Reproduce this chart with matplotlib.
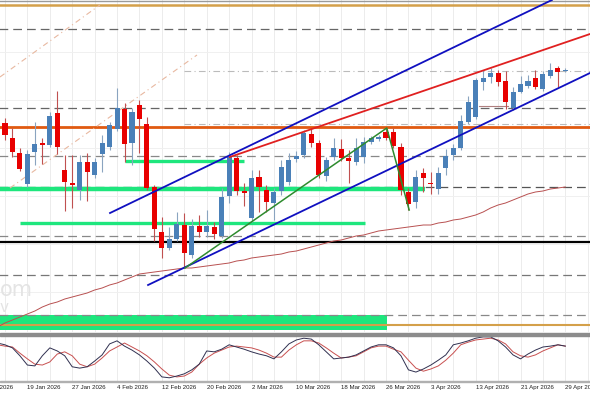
import numpy as np
import matplotlib.pyplot as plt
from matplotlib.patches import Rectangle

# daily candles, index 0 = 13 Jan 2026 (partly off screen)
colors = "BRRRBBRBRRRBRBBBBRBRRRRBBRBRBRBBRRBRRBBBBBRRBBRRBBBBRRRRBRRBBBBBBBBRRBBBRBBRB"
opens = [207, 217, 202, 187, 156, 188, 197, 195, 227, 170, 157, 150, 178, 165, 186, 193, 211, 231, 197, 235,
         216, 153, 108, 92, 101, 115, 85, 114, 108, 113, 104, 144, 182, 149, 122, 163, 150, 137, 149, 158,
         181, 185, 206, 197, 164, 183, 191, 182, 178, 183, 198, 201, 208, 208, 193, 148, 138, 167, 157, 151,
         172, 185, 192, 218, 223, 258, 263, 267, 259, 232, 248, 254, 262, 251, 264, 272, 269]
closes = [218, 205, 188, 171, 186, 196, 195, 224, 193, 158, 155, 178, 168, 178, 197, 215, 232, 196, 228, 221,
          152, 111, 92, 101, 116, 87, 114, 108, 114, 106, 143, 183, 149, 147, 162, 153, 138, 148, 173, 180,
          184, 207, 197, 165, 180, 192, 182, 179, 192, 198, 202, 203, 202, 194, 150, 136, 163, 162, 156, 167,
          184, 192, 219, 238, 260, 262, 267, 258, 238, 248, 256, 259, 253, 266, 270, 268, 270]
highs = [222, 222, 212, 192, 190, 218, 202, 228, 249, 185, 185, 185, 187, 182, 205, 218, 252, 237, 232, 240,
         223, 155, 123, 113, 128, 127, 121, 125, 130, 118, 152, 188, 185, 157, 170, 170, 155, 152, 180, 187,
         189, 210, 212, 200, 183, 202, 201, 190, 202, 203, 204, 205, 212, 212, 197, 152, 170, 172, 168, 173,
         191, 196, 225, 244, 262, 270, 272, 270, 269, 253, 264, 265, 270, 269, 277, 274, 272]
lows = [204, 200, 183, 169, 153, 175, 176, 193, 186, 129, 132, 140, 139, 162, 168, 190, 209, 178, 175, 187,
        150, 99, 82, 90, 99, 72, 82, 103, 103, 101, 102, 137, 145, 134, 118, 128, 128, 120, 145, 155,
        178, 182, 193, 162, 159, 180, 179, 157, 175, 177, 196, 199, 200, 192, 145, 130, 132, 148, 146, 146,
        165, 180, 190, 216, 221, 250, 257, 254, 231, 230, 247, 252, 251, 249, 262, 253, 268]
ma = [13, 17, 20, 23, 26, 29, 33, 36, 38, 41, 43, 45, 47, 50, 52, 55, 57, 60, 63, 66,
      67, 68, 69, 70, 71, 72, 72, 73, 74, 75, 76, 77, 79, 80, 82, 83, 84, 85, 86, 88,
      89, 91, 93, 95, 97, 99, 100, 102, 104, 105, 107, 109, 110, 111, 112, 113, 114, 115, 115, 117,
      118, 120, 121, 123, 125, 128, 132, 135, 137, 140, 143, 146, 148, 149, 151, 152, 153]
stoch_k = [84, 80, 73, 55, 34, 32, 55, 73, 66, 55, 30, 27, 30, 43, 57, 82, 89, 77, 68, 57,
           43, 27, 7, 5, 9, 14, 23, 36, 66, 64, 70, 80, 75, 70, 64, 59, 55, 48, 64, 82,
           91, 95, 93, 80, 64, 48, 50, 52, 57, 66, 75, 80, 80, 73, 55, 23, 18, 25, 34, 45,
           57, 80, 84, 89, 95, 98, 98, 89, 75, 57, 48, 59, 68, 75, 77, 80, 77]
stoch_d = [80, 77, 75, 61, 48, 36, 34, 41, 59, 64, 55, 36, 30, 36, 50, 66, 75, 84, 75, 66,
           55, 41, 25, 11, 7, 9, 18, 36, 50, 61, 68, 75, 77, 75, 73, 68, 61, 52, 52, 68,
           80, 89, 89, 84, 73, 61, 50, 52, 55, 64, 73, 77, 77, 70, 64, 45, 27, 20, 25, 32,
           45, 61, 80, 86, 91, 93, 95, 91, 82, 64, 55, 52, 57, 66, 73, 80, 77]

tick_idx = [-2, 4, 10, 16, 22, 28, 34, 40, 46, 52, 58, 64, 70, 76]
tick_labels = ['9 Jan 2026', '19 Jan 2026', '27 Jan 2026', '4 Feb 2026', '12 Feb 2026', '20 Feb 2026',
               '2 Mar 2026', '10 Mar 2026', '18 Mar 2026', '26 Mar 2026', '3 Apr 2026', '13 Apr 2026',
               '21 Apr 2026', '29 Apr 2026']

# horizontal levels (price, colour, width, style, from index)
levels = [(339, '#9a9a9a', 1.0, '-', None), (335, '#d4a04a', 1.8, '-', None),
          (311, '#666666', 0.9, (0, (7, 4)), None), (269, '#bbbbbb', 0.8, (0, (6, 3, 1, 3)), 25),
          (232, '#666666', 0.9, (0, (7, 4)), None), (216, '#bbbbbb', 0.8, (0, (6, 3, 1, 3)), 25),
          (213.5, '#e05a10', 2.0, '-', None), (184.5, '#888888', 0.9, (0, (7, 4)), None),
          (153, '#555555', 0.9, (0, (7, 4)), None), (104, '#888888', 0.9, (0, (7, 4)), None),
          (98, '#000000', 1.6, '-', None), (65, '#777777', 0.9, (0, (7, 4)), None),
          (25, '#888888', 0.9, (0, (7, 4)), None), (15, '#d4a04a', 1.5, '-', None)]
green_lines = [(179, 17, 33, 2.4), (151, -1, 57.2, 3.2), (117.5, 3, 49.2, 2.4)]
green_zone = (10, 25, -1, 52.1)
trend_blue = [((15.06, 127), (74.2, 340)), ((20.15, 55), (79.3, 267))]
trend_red = ((31.1, 183), (79.3, 306))
trend_green = [(25.1, 72), (52.1, 212), (55.1, 130)]
fan_lines = [((0.33, 263), (13.7, 335)), ((1.67, 152), (26.7, 285))]

W, H = 590, 393
fig = plt.figure(figsize=(W / 100, H / 100), dpi=100)
ax = fig.add_axes([0, (H - 332) / H, 1, 332 / H])
ax2 = fig.add_axes([0, (H - 381) / H, 1, 45 / H])
fig.add_artist(Rectangle((0, (H - 335.5) / H), 1, 3 / H, transform=fig.transFigure, color='#8c8c8c'))

x = np.arange(len(opens))
xlim = (0.335, 79.3)

for a in (ax, ax2):
    a.set_xlim(*xlim)
    for s in a.spines.values():
        s.set_visible(False)
    a.set_xticks([])
    a.set_yticks([])
    for g in range(-2, 80, 3):
        a.axvline(g, color='#ececec', lw=0.7, zorder=0)

ax.set_ylim(8, 340)
for yy in [48, 96, 144, 192, 240, 288]:
    ax.axhline(yy, color='#f0f0f0', lw=0.7, zorder=0)

ax.fill_between([green_zone[2], green_zone[3]], green_zone[0], green_zone[1], color='#1ee67d', lw=0, zorder=1)
for p, c, lw, ls, start in levels:
    xs = [start if start is not None else -2, 82]
    ax.plot(xs, [p, p], color=c, lw=lw, ls=ls, zorder=2)
for p, a0, a1, lw in green_lines:
    ax.plot([a0, a1], [p, p], color='#1ee67d', lw=lw, solid_capstyle='butt', zorder=2)

for (x0, y0), (x1, y1) in fan_lines:
    ax.plot([x0, x1], [y0, y1], color='#e8b8a0', lw=0.8, ls=(0, (5, 3, 1, 3)), zorder=2)

ax.plot(x, ma, color='#b85050', lw=0.7, zorder=3)

opens = np.array(opens); closes = np.array(closes)
highs = np.array(highs); lows = np.array(lows)
up = np.array([c == 'B' for c in colors])
body_c = np.where(up, '#4a80b8', '#e80000')
wick_c = np.where(up, '#8aa4c0', '#c05050')
ax.vlines(x, lows, highs, colors=wick_c, lw=0.8, zorder=4)
bottom = np.minimum(opens, closes)
height = np.maximum(np.abs(closes - opens), 1.2)
ax.bar(x, height, 0.68, bottom=bottom, color=body_c, lw=0, zorder=5)

ax.plot([64.5, 68.3], [234, 234], color='#b08080', lw=0.8, zorder=3)

for (x0, y0), (x1, y1) in trend_blue:
    ax.plot([x0, x1], [y0, y1], color='#1010c0', lw=1.3, zorder=6)
ax.plot([trend_red[0][0], trend_red[1][0]], [trend_red[0][1], trend_red[1][1]], color='#e02020', lw=1.3, zorder=6)
ax.plot([p[0] for p in trend_green], [p[1] for p in trend_green], color='#2e8b2e', lw=1.1, zorder=6)

# faint watermark, mostly off the left edge
ax.text(0.335, 50, 'om', color='#e4e4e4', fontsize=15, ha='left', va='center', zorder=1, clip_on=True)
ax.text(0.335, 32, 'v', color='#e4e4e4', fontsize=11, ha='left', va='center', zorder=1, clip_on=True)

ax2.set_ylim(-2.3, 100)
ax2.plot(x, stoch_d, color='#c85050', lw=0.7)
ax2.plot(x, stoch_k, color='#303050', lw=0.7)
fig.add_artist(Rectangle((0, (H - 382) / H), 1, 1 / H, transform=fig.transFigure, color='#b0b0b0'))

for i, lab in zip(tick_idx, tick_labels):
    ax2.text(i, -11, lab, fontsize=4.4, ha='left', va='top', color='#202020',
             family=['Liberation Sans', 'DejaVu Sans'], clip_on=True)
ax2.set_clip_on(False)
for t in ax2.texts:
    t.set_clip_box(fig.bbox)

fig.savefig('out.png', dpi=100)
